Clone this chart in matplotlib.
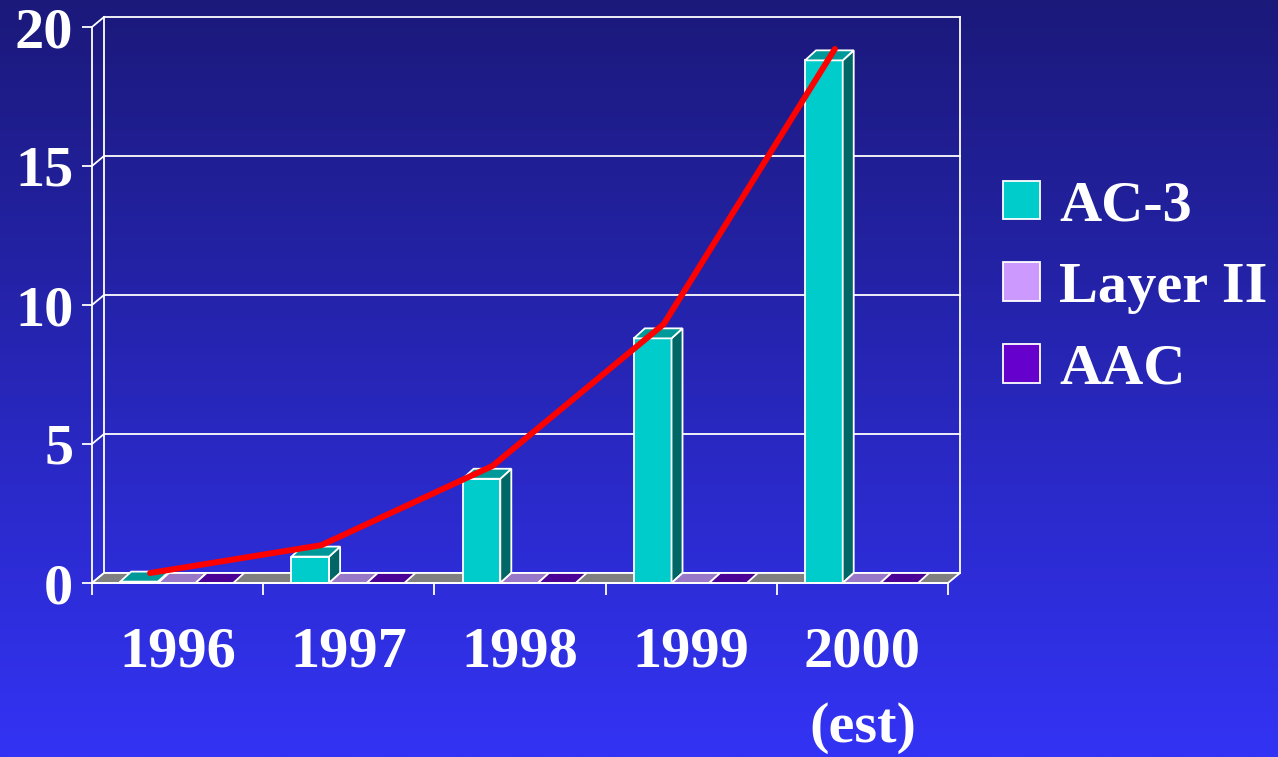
import numpy as np
import matplotlib
matplotlib.use("Agg")
import matplotlib.pyplot as plt
from matplotlib.patches import Polygon, Rectangle, Patch

# ---- data -------------------------------------------------------------
years = ["1996", "1997", "1998", "1999", "2000\n(est)"]
series = ["AC-3", "Layer II", "AAC"]
ac3 = [0.05, 0.95, 3.75, 8.8, 18.8]
layer2 = [0, 0, 0, 0, 0]
aac = [0, 0, 0, 0, 0]
ac3_trend = [0.0, 1.0, 3.85, 8.95, 18.85]
y_ticks = [0, 5, 10, 15, 20]

# ---- style ------------------------------------------------------------
front_col = {"AC-3": "#00CCCC", "Layer II": "#CC99FF", "AAC": "#6600CC"}
top_col = {"AC-3": "#009999", "Layer II": "#9A78C8", "AAC": "#4B0096"}
side_col = {"AC-3": "#006666", "Layer II": "#8060A8", "AAC": "#3A0070"}
FONT = "Liberation Serif"
FS = 42
W = 1278
H = 757

fig = plt.figure(figsize=(W / 100, H / 100), dpi=100)

# gradient backdrop
bg = fig.add_axes([0, 0, 1, 1], zorder=-10)
top_rgb = np.array([27, 25, 122]) / 255
bot_rgb = np.array([51, 51, 245]) / 255
t = np.linspace(0, 1, 256)[:, None]
grad = top_rgb * (1 - t) + bot_rgb * t
bg.imshow(grad[:, None, :].repeat(2, axis=1), aspect="auto", extent=[0, 1, 0, 1])
bg.axis("off")

ax = fig.add_axes([92 / W, (H - 583) / H, 856 / W, 556 / H])
ax.set_xlim(0, 5)
ax.set_ylim(0, 20)
ax.patch.set_alpha(0)

# depth of the 3-D box, in data units
DX = 12 / (856 / 5)
DY = 10 / (556 / 20)
BX = 11 / (856 / 5)
EW = 1.3
WHITE = "white"

# floor
ax.add_patch(Polygon([(0, 0), (5, 0), (5 + DX, DY), (DX, DY)], closed=True,
                     facecolor="#808080", edgecolor=WHITE, lw=EW, zorder=1,
                     clip_on=False))
# back wall edges and gridlines
for v in y_ticks:
    ax.plot([DX, 5 + DX], [v + DY, v + DY], color=WHITE, lw=1.3, zorder=0.5,
            clip_on=False)
    ax.plot([0, DX], [v, v + DY], color=WHITE, lw=1.3, zorder=0.5, clip_on=False)
for xv in (DX, 5 + DX):
    ax.plot([xv, xv], [DY, 20 + DY], color=WHITE, lw=1.3, zorder=0.5,
            clip_on=False)

# bars
offset = 0.165
bw = 0.22
values = {"AC-3": ac3, "Layer II": layer2, "AAC": aac}
for i in range(len(years)):
    for j, s in enumerate(series):
        v = values[s][i]
        x0 = i + offset + j * bw
        x1 = x0 + bw
        z = 2 + i * 0.1 + j * 0.01
        if v > 0:
            ax.add_patch(Rectangle((x0, 0), bw, v, facecolor=front_col[s],
                                   edgecolor=WHITE, lw=EW, zorder=z, clip_on=False))
            ax.add_patch(Polygon([(x1, 0), (x1 + BX, DY), (x1 + BX, v + DY), (x1, v)],
                                 closed=True, facecolor=side_col[s],
                                 edgecolor=WHITE, lw=EW, zorder=z, clip_on=False))
        ax.add_patch(Polygon([(x0, v), (x1, v), (x1 + BX, v + DY), (x0 + BX, v + DY)],
                             closed=True, facecolor=top_col[s], edgecolor=WHITE,
                             lw=EW, zorder=z, clip_on=False))

# trend line across the AC-3 bars
trend_x = [i + offset + bw / 2 + BX for i in range(len(years))]
ax.plot(trend_x, [v + DY for v in ac3_trend], color="#FF0000", lw=4.3,
        solid_capstyle="round", solid_joinstyle="round", zorder=10, clip_on=False)

# axes
for sp in ("top", "right"):
    ax.spines[sp].set_visible(False)
for sp in ("left", "bottom"):
    ax.spines[sp].set_color(WHITE)
    ax.spines[sp].set_linewidth(1.3)
    ax.spines[sp].set_zorder(5)
ax.set_yticks(y_ticks)
ax.set_yticklabels([str(v) for v in y_ticks])
ax.set_xticks(np.arange(0, 6))
ax.set_xticklabels([])
ax.set_xticks(np.arange(len(years)) + 0.5, minor=True)
ax.set_xticklabels(years, minor=True)
ax.tick_params(axis="y", colors=WHITE, length=7.5, width=1.3, pad=6,
               labelsize=FS)
ax.tick_params(axis="x", which="major", colors=WHITE, length=8.5, width=1.3)
ax.tick_params(axis="x", which="minor", length=0, pad=31, labelsize=FS,
               labelcolor=WHITE)
for lab in ax.get_yticklabels() + ax.get_xticklabels(minor=True):
    lab.set_fontfamily(FONT)
    lab.set_fontweight("bold")
    lab.set_color(WHITE)
for lab in ax.get_xticklabels(minor=True):
    lab.set_linespacing(1.6)
    lab.set_verticalalignment("top")

# legend
handles = [Patch(facecolor=front_col[s], edgecolor=WHITE, lw=1.3) for s in series]
leg = fig.legend(handles, series, loc="upper left",
                 bbox_to_anchor=(950 / W, 1 - 128 / H),
                 frameon=False, handlelength=0.65, handleheight=0.65,
                 handletextpad=0.32, labelspacing=0.51,
                 prop={"family": FONT, "weight": "bold", "size": FS})
for txt in leg.get_texts():
    txt.set_color(WHITE)

fig.savefig("out.png", dpi=100)
